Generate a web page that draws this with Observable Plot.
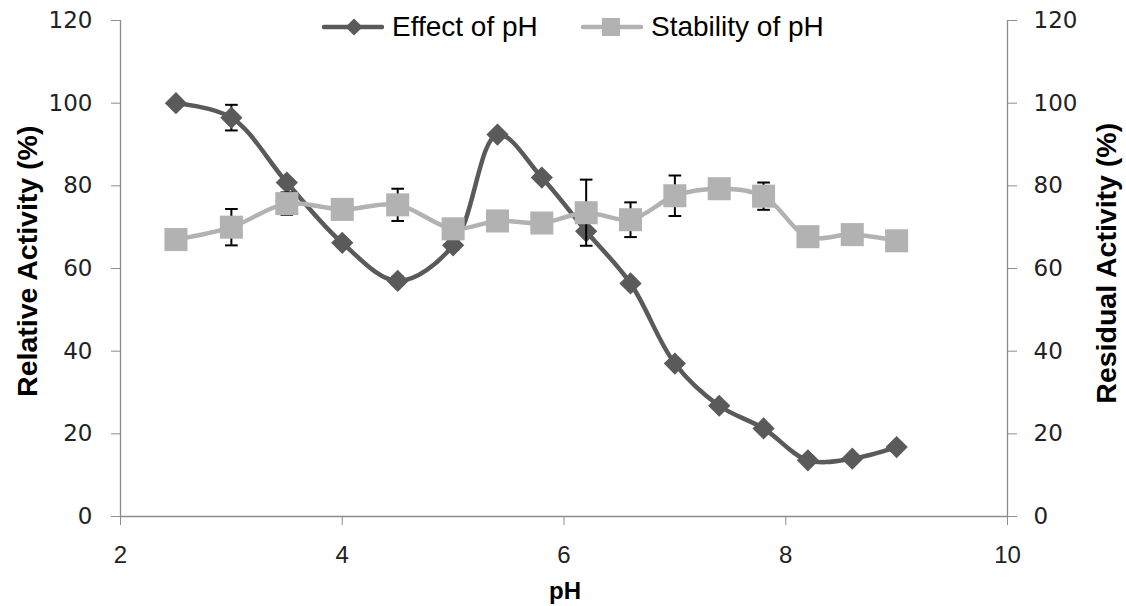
<!DOCTYPE html>
<html>
<head>
<meta charset="utf-8">
<script src="https://cdn.jsdelivr.net/npm/d3@7"></script>
<script src="https://cdn.jsdelivr.net/npm/@observablehq/plot@0.6"></script>
<style>
  html, body { margin: 0; padding: 0; background: #fff; }
  #wrap { position: relative; width: 1126px; height: 606px; overflow: hidden; }
  .ytitle { position: absolute; font-family: "Liberation Sans", Arial, sans-serif; font-weight: bold; font-size: 28.5px; line-height: 1; color: #000; white-space: nowrap; }
  .xtitle { position: absolute; font-family: "Liberation Sans", Arial, sans-serif; font-weight: bold; font-size: 24px; line-height: 1; color: #000; }
  .litem { position: absolute; top: 12px; height: 30px; display: flex; align-items: center; font-family: "Liberation Sans", Arial, sans-serif; font-size: 28px; line-height: 1; color: #000; white-space: nowrap; }
  .litem svg { margin-right: 8px; }
</style>
</head>
<body>
<div id="wrap"></div>
<script>
// Data
const pH = [2.5, 3.0, 3.5, 4.0, 4.5, 5.0, 5.4, 5.8, 6.2, 6.6, 7.0, 7.4, 7.8, 8.2, 8.6, 9.0];
const effect = [100, 96.5, 80.8, 66.2, 57.0, 65.6, 92.4, 82.0, 69.0, 56.4, 37.0, 26.8, 21.3, 13.6, 14.0, 16.8];
const effectErr = [0, 3.1, 0, 0, 1, 1, 0, 0, 0, 0, 0, 0, 0, 0, 0, 0.8];
const stability = [67.0, 70.0, 75.7, 74.3, 75.4, 69.6, 71.5, 71.0, 73.5, 71.8, 77.6, 79.3, 77.5, 67.7, 68.2, 66.7];
const stabilityErr = [0, 4.4, 2.7, 0, 3.9, 0, 0, 0, 8.0, 4.2, 4.9, 0, 3.3, 0, 0, 0];
const xTicks = [2, 4, 6, 8, 10];
const yTicks = [0, 20, 40, 60, 80, 100, 120];
const seriesNames = ["Effect of pH", "Stability of pH"];
const colors = ["#5a5a5a", "#b2b2b2"];

const effectData = pH.map((x, i) => ({x, y: effect[i], e: effectErr[i]}));
const stabData = pH.map((x, i) => ({x, y: stability[i], e: stabilityErr[i]}));
const capHalf = 0.057;

const axisFontY = "DejaVu Sans, Verdana, sans-serif";
const axisFontX = "Liberation Sans, Arial, sans-serif";

function errorBars(data) {
  const d = data.filter(v => v.e > 0);
  return [
    Plot.ruleX(d, {x: "x", y1: v => v.y - v.e, y2: v => v.y + v.e, stroke: "#000", strokeWidth: 2}),
    Plot.link(d, {x1: v => v.x - capHalf, x2: v => v.x + capHalf, y1: v => v.y + v.e, y2: v => v.y + v.e, stroke: "#000", strokeWidth: 2}),
    Plot.link(d, {x1: v => v.x - capHalf, x2: v => v.x + capHalf, y1: v => v.y - v.e, y2: v => v.y - v.e, stroke: "#000", strokeWidth: 2})
  ];
}

const chart = Plot.plot({
  width: 1126,
  height: 606,
  marginLeft: 120,
  marginRight: 119,
  marginTop: 20,
  marginBottom: 90,
  style: {background: "#fff", color: "#222", overflow: "visible"},
  x: {domain: [2, 10]},
  y: {domain: [0, 120]},
  marks: [
    Plot.ruleX([2, 10], {stroke: "#8c8c8c", strokeWidth: 1.3}),
    Plot.ruleY([0], {stroke: "#8c8c8c", strokeWidth: 1.3}),
    Plot.axisX({ticks: xTicks, tickSize: 9, tickPadding: 20, stroke: "#8c8c8c", fill: "#222", fontSize: 24, fontFamily: axisFontX, label: null, tickFormat: d => String(d)}),
    Plot.axisY({anchor: "left", ticks: yTicks, tickSize: 9, tickPadding: 19, stroke: "#8c8c8c", fill: "#222", fontSize: 23, fontFamily: axisFontY, label: null}),
    Plot.axisY({anchor: "right", ticks: yTicks, tickSize: 9, tickPadding: 17, stroke: "#8c8c8c", fill: "#222", fontSize: 23, fontFamily: axisFontY, label: null}),
    Plot.line(effectData, {x: "x", y: "y", stroke: colors[0], strokeWidth: 4.5, curve: "catmull-rom"}),
    ...errorBars(effectData),
    Plot.dot(effectData, {x: "x", y: "y", symbol: "diamond2", r: 10, fill: colors[0], stroke: "none"}),
    Plot.line(stabData, {x: "x", y: "y", stroke: colors[1], strokeWidth: 4.5, curve: "catmull-rom"}),
    ...errorBars(stabData),
    Plot.dot(stabData, {x: "x", y: "y", symbol: "square", r: 13, fill: colors[1], stroke: "none"})
  ]
});

const wrap = document.getElementById("wrap");
wrap.appendChild(chart);

// Axis titles
function addTitle(cls, text) {
  const el = document.createElement("div");
  el.className = cls;
  el.textContent = text;
  wrap.appendChild(el);
  return el;
}
const lt = addTitle("ytitle", "Relative Activity (%)");
const rt = addTitle("ytitle", "Residual Activity (%)");
const xt = addTitle("xtitle", "pH");

function placeRotated(el, cx, cy) {
  const w = el.offsetWidth, h = el.offsetHeight;
  el.style.left = (cx - w / 2) + "px";
  el.style.top = (cy - h / 2) + "px";
  el.style.transform = "rotate(-90deg)";
}
placeRotated(lt, 27, 261);
placeRotated(rt, 1106, 263);
xt.style.left = (565 - xt.offsetWidth / 2) + "px";
xt.style.top = "579px";

// Legend
const legendLeft = [322, 581];
seriesNames.forEach((name, i) => {
  const item = document.createElement("div");
  item.className = "litem";
  item.style.left = legendLeft[i] + "px";
  const sw = d3.create("svg").attr("width", 62).attr("height", 30);
  sw.append("line").attr("x1", 2).attr("x2", 60).attr("y1", 15).attr("y2", 15)
    .attr("stroke", colors[i]).attr("stroke-width", 4.5).attr("stroke-linecap", "round");
  if (i === 0) {
    sw.append("path").attr("d", d3.symbol(d3.symbolDiamond2, Math.PI * 60)()).attr("transform", "translate(32,15)").attr("fill", colors[i]);
  } else {
    sw.append("rect").attr("x", 21).attr("y", 6).attr("width", 18).attr("height", 18).attr("fill", colors[i]);
  }
  item.appendChild(sw.node());
  const t = document.createElement("span");
  t.textContent = name;
  item.appendChild(t);
  wrap.appendChild(item);
});
</script>
</body>
</html>
